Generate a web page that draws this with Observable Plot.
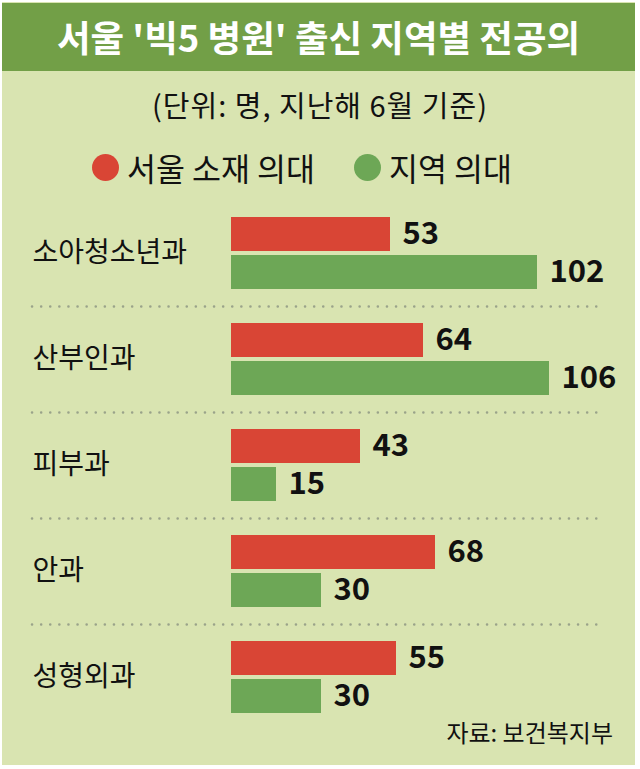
<!DOCTYPE html>
<html><head><meta charset="utf-8">
<script src="https://cdn.jsdelivr.net/npm/d3@7"></script>
<script src="https://cdn.jsdelivr.net/npm/@observablehq/plot@0.6"></script>
<style>
body{margin:0;background:#fff;}
#page{position:relative;width:640px;height:769px;overflow:hidden;font-family:"Noto Sans CJK KR",sans-serif;color:#111;}
#panel{position:absolute;left:2px;top:2px;width:633px;height:763px;background:#d9e4b1;}
#title{position:absolute;left:2px;top:3px;width:633px;height:68px;background:#729f47;color:#fff;font-weight:700;font-size:36.5px;line-height:68px;text-align:center;white-space:nowrap;}
#subtitle{position:absolute;left:0;width:640px;top:85px;text-align:center;font-size:29px;letter-spacing:1px;line-height:38px;white-space:nowrap;}
#legend{position:absolute;top:147px;left:92px;height:40px;display:flex;align-items:center;font-size:31.5px;line-height:40px;white-space:nowrap;}
.item{display:flex;align-items:center;margin-right:39px;}
.dot{width:27px;height:27px;border-radius:50%;margin-right:8px;}
#chart{position:absolute;left:0;top:190px;}
#caption{position:absolute;right:27px;top:716px;font-size:24px;line-height:32px;white-space:nowrap;}
</style></head>
<body>
<div id="page">
  <div id="panel"></div>
  <div id="title"></div>
  <div id="subtitle"></div>
  <div id="legend"></div>
  <div id="chart"></div>
  <div id="caption"></div>
</div>
<script>
const titleText = "서울 '빅5 병원' 출신 지역별 전공의";
const subtitleText = "(단위: 명, 지난해 6월 기준)";
const captionText = "자료: 보건복지부";
const categories = ["소아청소년과", "산부인과", "피부과", "안과", "성형외과"];
const seriesNames = ["서울 소재 의대", "지역 의대"];
const seoulValues = [53, 64, 43, 68, 55];
const regionValues = [102, 106, 15, 30, 30];
const seriesColors = ["#d94535", "#6da756"];

document.getElementById("title").textContent = titleText;
document.getElementById("subtitle").textContent = subtitleText;
document.getElementById("caption").textContent = captionText;
const legend = document.getElementById("legend");
seriesNames.forEach((name, i) => {
  const item = document.createElement("div");
  item.className = "item";
  const dot = document.createElement("span");
  dot.className = "dot";
  dot.style.background = seriesColors[i];
  const label = document.createElement("span");
  label.textContent = name;
  item.appendChild(dot);
  item.appendChild(label);
  legend.appendChild(item);
});

const rows = categories.flatMap((c, i) => [
  {category: c, series: seriesNames[0], value: seoulValues[i]},
  {category: c, series: seriesNames[1], value: regionValues[i]}
]);

const chart = Plot.plot({
  width: 640,
  height: 550,
  marginTop: 10,
  marginBottom: 10,
  marginLeft: 231,
  marginRight: 49,
  x: {domain: [0, 120], axis: null},
  y: {domain: seriesNames, axis: null, paddingInner: 0.1, paddingOuter: 0.41},
  fy: {domain: categories, axis: null, padding: 0},
  color: {domain: seriesNames, range: seriesColors},
  style: {fontFamily: "'Noto Sans CJK KR', sans-serif", background: "transparent", overflow: "visible"},
  marks: [
    Plot.ruleY(categories.slice(0, -1), {
      fy: d => d, y: () => seriesNames[1], dy: 34,
      insetLeft: -199, insetRight: -14,
      stroke: "#9aa38a", strokeWidth: 2.5, strokeDasharray: "0.1 9", strokeLinecap: "round"
    }),
    Plot.barX(rows, {x: "value", y: "series", fy: "category", fill: "series"}),
    Plot.text(rows, {
      x: "value", y: "series", fy: "category", text: d => String(d.value),
      dx: 12, textAnchor: "start", fontSize: 31, fontWeight: 700, fill: "#111"
    }),
    Plot.text(categories, {
      fy: d => d, text: d => d, frameAnchor: "left", dx: -199,
      textAnchor: "start", fontSize: 28, fill: "#111"
    })
  ]
});
document.getElementById("chart").appendChild(chart);
</script>
</body></html>
